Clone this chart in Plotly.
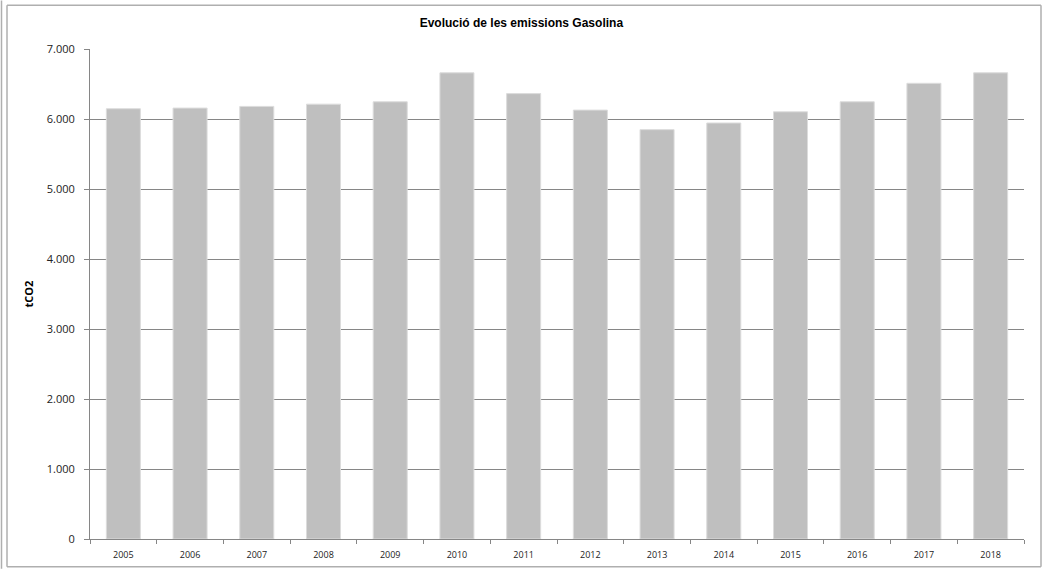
import plotly.graph_objects as go

years = ["2005", "2006", "2007", "2008", "2009", "2010", "2011",
         "2012", "2013", "2014", "2015", "2016", "2017", "2018"]
emissions = [6147, 6156, 6180, 6212, 6246, 6660, 6363,
             6127, 5848, 5943, 6103, 6246, 6510, 6660]
y_ticks = [0, 1000, 2000, 3000, 4000, 5000, 6000, 7000]

W, H = 1049, 573
L, R, T, B = 90, 25, 49, 30
pw, ph = W - L - R, H - T - B

def px(x):
    return (x - L) / pw

def py(y):
    return (H - B - y) / ph

fig = go.Figure(go.Bar(
    x=years, y=emissions,
    marker=dict(color="#BFBFBF", line=dict(color="#DCDCDC", width=1)),
    hoverinfo="x+y",
))

border = dict(color="#AFAFAF", width=1.5)

fig.update_layout(
    width=W, height=H,
    margin=dict(l=L, r=R, t=T, b=B),
    paper_bgcolor="white", plot_bgcolor="white",
    separators=",.",
    bargap=0.49,
    showlegend=False,
    title=dict(text="<b>Evolució de les emissions Gasolina</b>",
               x=0.497, xref="container",
               y=1 - 23 / H, yanchor="middle", xanchor="center",
               font=dict(family="Liberation Sans, Arial", size=12, color="#000000")),
    font=dict(family="Open Sans, Noto Sans, sans-serif", color="#222222"),
    xaxis=dict(
        type="category",
        showgrid=False,
        showline=True, linecolor="#868686", linewidth=1,
        ticks="outside", tickson="boundaries", ticklen=4, tickcolor="#868686",
        tickfont=dict(size=9, color="#222222"),
        ticklabelstandoff=7,
    ),
    yaxis=dict(
        range=[0, 7000],
        tickvals=y_ticks,
        tickformat=",",
        showgrid=True, gridcolor="#868686", gridwidth=1,
        showline=True, linecolor="#868686", linewidth=1,
        zeroline=False,
        ticks="outside", ticklen=5, tickcolor="#868686",
        tickfont=dict(size=11, color="#222222"),
        ticklabelstandoff=7,
        title=dict(text="<b>tCO2</b>", standoff=10,
                   font=dict(family="Open Sans, Noto Sans, sans-serif", size=11, color="#000000")),
    ),
    shapes=[
        dict(type="line", xref="paper", yref="paper",
             x0=px(7), x1=px(1041), y0=py(5), y1=py(5), line=border),
        dict(type="line", xref="paper", yref="paper",
             x0=px(7), x1=px(1041), y0=py(571), y1=py(571), line=border),
        dict(type="line", xref="paper", yref="paper",
             x0=px(7), x1=px(7), y0=py(5), y1=py(571), line=border),
        dict(type="line", xref="paper", yref="paper",
             x0=px(1041), x1=px(1041), y0=py(5), y1=py(571), line=border),
        dict(type="line", xref="paper", yref="paper",
             x0=px(1.5), x1=px(1.5), y0=py(573), y1=py(0), line=border),
    ],
)

fig.write_html("out.html",
               config={"displayModeBar": False},
               post_script="document.body.style.margin='0';document.body.style.overflow='hidden';")
